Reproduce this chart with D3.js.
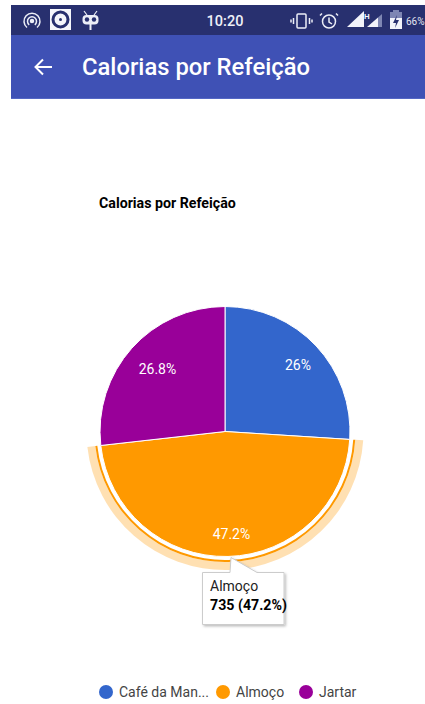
<!DOCTYPE html>
<html>
<head>
<meta charset="utf-8">
<script src="https://cdn.jsdelivr.net/npm/d3@7"></script>
<style>
html,body{margin:0;padding:0;background:#fff;overflow:hidden;}
svg{display:block;font-family:Roboto,sans-serif;}
</style>
</head>
<body>
<svg id="c" width="425" height="704"></svg>
<script>
const categories = ["Café da Manhã", "Almoço", "Jartar"];
const calories = [405, 735, 417];
const sliceColors = ["#3366cc", "#ff9900", "#990099"];
const sliceLabels = ["26%", "47.2%", "26.8%"];
const legendLabels = ["Café da Man...", "Almoço", "Jartar"];
const labelNudge = [[0, 2], [4, 3], [7, 4]];
const legendPos = [106, 223, 306];
const selected = 1;
const screenTitle = "Calorias por Refeição";
const chartTitle = "Calorias por Refeição";
const clock = "10:20";
const battery = "66%";

const svg = d3.select("#c");

// Status bar and toolbar
svg.append("rect").attr("x", 11).attr("y", 5).attr("width", 414).attr("height", 30).attr("fill", "#28306f");
svg.append("rect").attr("x", 11).attr("y", 35).attr("width", 414).attr("height", 64).attr("fill", "#3f51b5");
svg.append("rect").attr("x", 11).attr("y", 98).attr("width", 414).attr("height", 1).attr("fill", "#5467c4");
svg.append("text").attr("x", 225).attr("y", 26).attr("text-anchor", "middle").attr("fill", "#eef0f8")
  .attr("font-size", 14.5).attr("font-weight", 500).text(clock);
svg.append("text").attr("x", 406).attr("y", 25).attr("fill", "#e4e6f2").attr("font-size", 10).text(battery);

const ico = svg.append("g").attr("fill", "none").attr("stroke", "#eceef7").attr("stroke-width", 1.5);
// hotspot arcs, open towards the bottom
ico.append("path").attr("d", "M27 27.5A8 8 0 1 1 37 27.5M29.2 24.8A4.5 4.5 0 1 1 34.8 24.8");
ico.append("circle").attr("cx", 32).attr("cy", 21).attr("r", 1.5).attr("fill", "#eceef7");
// media tile
ico.append("rect").attr("x", 50).attr("y", 9).attr("width", 21).attr("height", 21).attr("fill", "#f5f6fb").attr("stroke", "none");
ico.append("circle").attr("cx", 60.5).attr("cy", 19.5).attr("r", 7.5).attr("stroke", "#28306f").attr("stroke-width", 3);
ico.append("circle").attr("cx", 60.5).attr("cy", 19.5).attr("r", 1.5).attr("fill", "#28306f").attr("stroke", "none");
// mascot
ico.append("path").attr("d", "M84 11l3 4M97 11l-3 4").attr("stroke-width", 1.2);
ico.append("rect").attr("x", 82.5).attr("y", 15).attr("width", 16).attr("height", 9.5).attr("rx", 4).attr("fill", "#eceef7").attr("stroke", "none");
ico.append("circle").attr("cx", 87).attr("cy", 19.5).attr("r", 2.2).attr("fill", "#28306f").attr("stroke", "none");
ico.append("circle").attr("cx", 94).attr("cy", 19.5).attr("r", 2.2).attr("fill", "#28306f").attr("stroke", "none");
ico.append("path").attr("d", "M90.5 24v6").attr("stroke-width", 2);
// vibrate
ico.append("rect").attr("x", 297).attr("y", 14).attr("width", 9).attr("height", 14).attr("rx", 1);
ico.append("path").attr("d", "M293.5 18v6M309.5 18v6M291 19.5v3M312 19.5v3");
// alarm clock
ico.append("circle").attr("cx", 329).attr("cy", 21.5).attr("r", 6.5);
ico.append("path").attr("d", "M329 17.5v4.5l3 2M322 13.5l-2 2M336 13.5l2 2");
// signal bars
svg.append("path").attr("d", "M347 27L364 11V27Z").attr("fill", "#f2f3fa");
svg.append("path").attr("d", "M367 27L378 17.5V27Z").attr("fill", "#f2f3fa");
svg.append("path").attr("d", "M378 17.5L382 14V27H378Z").attr("fill", "#7e86b3");
svg.append("text").attr("x", 364).attr("y", 19).attr("fill", "#f2f3fa").attr("font-size", 8).attr("font-weight", 700).text("H");
// battery
svg.append("rect").attr("x", 390).attr("y", 12).attr("width", 12).attr("height", 17).attr("fill", "#f2f3fa");
svg.append("rect").attr("x", 390).attr("y", 12).attr("width", 12).attr("height", 6).attr("fill", "#7e86b3");
svg.append("rect").attr("x", 393).attr("y", 10).attr("width", 6).attr("height", 2).attr("fill", "#7e86b3");
svg.append("path").attr("d", "M397 15l-4 8h3l-1 5 4-8h-3z").attr("fill", "#28306f");

// Toolbar back arrow and title
svg.append("path").attr("d", "M52 67H36M43 59.5L35.5 67L43 74.5").attr("fill", "none").attr("stroke", "#fff").attr("stroke-width", 2);
svg.append("text").attr("x", 82).attr("y", 75).attr("fill", "#fff").attr("font-size", 23.8).attr("font-weight", 500).text(screenTitle);

// Chart heading
svg.append("text").attr("x", 99).attr("y", 208).attr("fill", "#000").attr("font-size", 14.2).attr("font-weight", 700).text(chartTitle);

// Pie
const cx = 225, cy = 431.5, radius = 125;
const pie = d3.pie().sort(null).startAngle(0).endAngle(2 * Math.PI).value(d => d);
const arcs = pie(calories);
const arc = d3.arc().innerRadius(0).outerRadius(radius);
const labelArc = d3.arc().innerRadius(100).outerRadius(100);
const g = svg.append("g").attr("transform", `translate(${cx},${cy})`);

// Selection halo around the highlighted slice
const hi = arcs[selected];
g.append("path").attr("fill", sliceColors[selected]).attr("fill-opacity", 0.3)
  .attr("d", d3.arc().innerRadius(130.5).outerRadius(138.5)(hi));
g.append("path").attr("fill", sliceColors[selected])
  .attr("d", d3.arc().innerRadius(128.5).outerRadius(130.5)(hi));

g.selectAll("path.slice").data(arcs).join("path").attr("class", "slice")
  .attr("fill", (d, i) => sliceColors[i]).attr("stroke", "#fff").attr("stroke-width", 1)
  .attr("d", arc);

g.selectAll("text.val").data(arcs).join("text").attr("class", "val")
  .attr("transform", (d, i) => {
    const [x, y] = labelArc.centroid(d);
    return `translate(${x + labelNudge[i][0]},${y + labelNudge[i][1]})`;
  })
  .attr("text-anchor", "middle").attr("dy", "0.35em").attr("fill", "#fff").attr("font-size", 14)
  .text((d, i) => sliceLabels[i]);

// Tooltip for the highlighted slice
const defs = svg.append("defs");
defs.append("filter").attr("id", "tipShadow").attr("x", "-10%").attr("y", "-10%").attr("width", "125%").attr("height", "125%")
  .append("feDropShadow").attr("dx", 1.5).attr("dy", 1.5).attr("stdDeviation", 1).attr("flood-color", "#000").attr("flood-opacity", 0.25);
const tip = svg.append("g");
tip.append("path")
  .attr("d", "M202.5 572.5H230L231 557.5L257 572.5H284V624.5H202.5Z")
  .attr("fill", "#fff").attr("stroke", "#cccccc").attr("stroke-width", 1).attr("filter", "url(#tipShadow)");
tip.append("text").attr("x", 210).attr("y", 591).attr("fill", "#222").attr("font-size", 14).text(categories[selected]);
tip.append("text").attr("x", 210).attr("y", 610).attr("fill", "#000").attr("font-size", 14.2).attr("font-weight", 700)
  .text(`${calories[selected]} (${sliceLabels[selected]})`);

// Legend
const leg = svg.append("g").selectAll("g").data(categories).join("g")
  .attr("transform", (d, i) => `translate(${legendPos[i]},692)`);
leg.append("circle").attr("r", 7).attr("fill", (d, i) => sliceColors[i]);
leg.append("text").attr("x", 13).attr("dy", "0.35em").attr("fill", "#444").attr("font-size", 14)
  .text((d, i) => legendLabels[i]);
</script>
</body>
</html>
